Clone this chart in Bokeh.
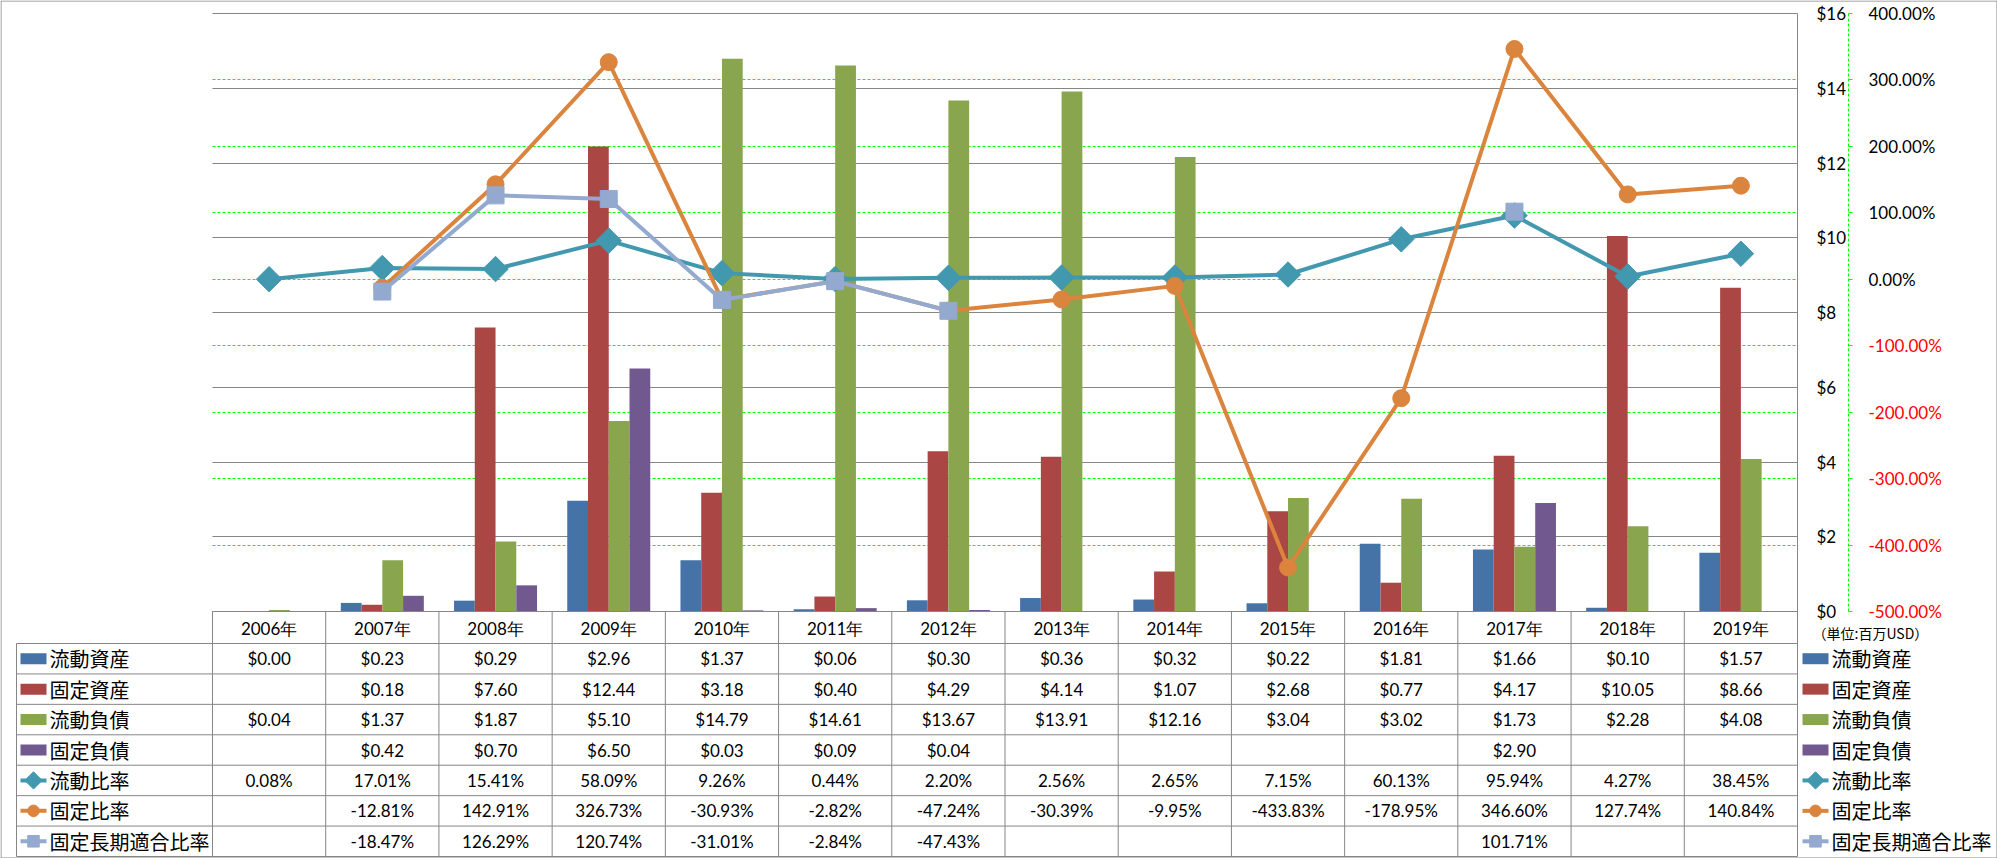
import math
from bokeh.plotting import figure
from bokeh.models import (Range1d, LinearAxis, FixedTicker, PrintfTickFormatter, Grid,
                          ColumnDataSource, LabelSet)
from bokeh.embed import file_html
from bokeh.resources import INLINE
from bokeh.core.properties import value

# ---------------- data ----------------
years = ["2006年", "2007年", "2008年", "2009年", "2010年", "2011年", "2012年",
         "2013年", "2014年", "2015年", "2016年", "2017年", "2018年", "2019年"]
current_assets = [0.00, 0.23, 0.29, 2.96, 1.37, 0.06, 0.30, 0.36, 0.32, 0.22, 1.81, 1.66, 0.10, 1.57]
fixed_assets = [None, 0.18, 7.60, 12.44, 3.18, 0.40, 4.29, 4.14, 1.07, 2.68, 0.77, 4.17, 10.05, 8.66]
current_liabilities = [0.04, 1.37, 1.87, 5.10, 14.79, 14.61, 13.67, 13.91, 12.16, 3.04, 3.02, 1.73, 2.28, 4.08]
fixed_liabilities = [None, 0.42, 0.70, 6.50, 0.03, 0.09, 0.04, None, None, None, None, 2.90, None, None]
current_ratio = [0.08, 17.01, 15.41, 58.09, 9.26, 0.44, 2.20, 2.56, 2.65, 7.15, 60.13, 95.94, 4.27, 38.45]
fixed_ratio = [None, -12.81, 142.91, 326.73, -30.93, -2.82, -47.24, -30.39, -9.95, -433.83,
               -178.95, 346.60, 127.74, 140.84]
fixed_lt_ratio = [None, -18.47, 126.29, 120.74, -31.01, -2.84, -47.43, None, None, None,
                  None, 101.71, None, None]
series_names = ["流動資産", "固定資産", "流動負債", "固定負債", "流動比率", "固定比率", "固定長期適合比率"]
dollar_ticks = [0, 2, 4, 6, 8, 10, 12, 14, 16]
pct_ticks = [-500, -400, -300, -200, -100, 0, 100, 200, 300, 400]
unit_note = "（単位:百万USD）"

# ---------------- style / layout ----------------
BLUE, RED, GREEN, PURPLE = "#4572A7", "#AA4643", "#89A54E", "#71588F"
TEAL, ORANGE, LBLUE = "#4198AF", "#DB843D", "#93A9CF"
GRAY, LIME = "#868686", "#00FF00"
FONT = "Lato"
CJK = "Noto Sans CJK JP"

N = len(years)
W, H = 1997, 858                 # canvas
X0, Y0 = 0, 0                    # canvas position on the page
FL, FR, FT, FB = 212, 1797, 13, 611   # chart plot area (page px)
HB, TB = 643, 856                # header bottom, table bottom
CW = (FR - FL) / N
PXD = (FB - FT) / 16.0           # px per dollar
PXP = (FB - FT) / 900.0          # px per percent


def ux(a):
    return -0.5 + (a - FL) / CW


def uy(a):
    return (FB - a) / PXD


def up(a):
    return -500 + (FB - a) / PXP


def nanify(v):
    return [float("nan") if a is None else a for a in v]


p = figure(width=W, height=H, x_range=Range1d(ux(X0), ux(X0 + W)),
           y_range=Range1d(uy(Y0 + H), uy(Y0)),
           x_axis_location=None, y_axis_location=None, toolbar_location=None,
           output_backend="svg", min_border=0, outline_line_color=None)
p.xgrid.visible = False
p.ygrid.visible = False
p.extra_y_ranges = {"pct": Range1d(up(Y0 + H), up(Y0))}

# gridlines
p.add_layout(Grid(dimension=1, ticker=FixedTicker(ticks=dollar_ticks), bounds=(0, 16),
                  cross_bounds=(-0.5, N - 0.5), grid_line_color=GRAY, grid_line_width=1))
p.add_layout(Grid(dimension=1, y_range_name="pct", ticker=FixedTicker(ticks=pct_ticks[1:-1]),
                  cross_bounds=(-0.5, N - 0.5), grid_line_color=LIME, grid_line_width=1,
                  grid_line_dash="3 2"))

# bars
bar_series = [current_assets, fixed_assets, current_liabilities, fixed_liabilities]
bar_colors = [BLUE, RED, GREEN, PURPLE]
bw = 20.75 / CW
for k, (vals, col) in enumerate(zip(bar_series, bar_colors)):
    xs = [i + (k - 1.5) * bw for i in range(N)]
    p.vbar(x=xs, top=nanify(vals), bottom=0, width=bw, fill_color=col, line_color=None)

# ratio lines
idx = list(range(N))
line_series = [(current_ratio, TEAL, "square", 18, math.pi / 4),
               (fixed_ratio, ORANGE, "circle", 17, 0),
               (fixed_lt_ratio, LBLUE, "square", 17, 0)]
for vals, col, mk, sz, ang in line_series:
    ys = nanify(vals)
    p.line(idx, ys, y_range_name="pct", line_color=col, line_width=4)
    p.scatter(idx, ys, y_range_name="pct", marker=mk, size=sz, angle=ang,
              fill_color=col, line_color=col)

# axes
ax_x = LinearAxis(fixed_location=0, bounds=(-0.5, N - 0.5),
                  ticker=FixedTicker(ticks=list(range(N))),
                  major_label_overrides={i: years[i] for i in range(N)},
                  axis_line_color=GRAY, major_tick_out=0, major_tick_in=0,
                  minor_tick_out=0, minor_tick_in=0, major_label_standoff=6,
                  major_label_text_font=FONT, major_label_text_font_size="17px",
                  major_label_text_color="black")
p.add_layout(ax_x, "below")

ax_d = LinearAxis(fixed_location=N - 0.5, bounds=(0, 16),
                  ticker=FixedTicker(ticks=dollar_ticks), formatter=PrintfTickFormatter(format="$%d"),
                  axis_line_color=GRAY, major_tick_out=0, major_tick_in=0, minor_tick_out=0,
                  minor_tick_in=0, major_label_standoff=19, major_label_text_font=FONT,
                  major_label_text_font_size="17px", major_label_text_color="black")
p.add_layout(ax_d, "right")

ax_p = LinearAxis(y_range_name="pct", fixed_location=ux(1848), bounds=(-500, 400),
                  ticker=FixedTicker(ticks=pct_ticks),
                  formatter=PrintfTickFormatter(format="%.2f%%"),
                  major_label_overrides={t: "" for t in pct_ticks if t < 0},
                  axis_line_color=LIME, axis_line_dash="3 2", major_tick_out=4, major_tick_in=0,
                  major_tick_line_color=LIME, minor_tick_out=0, minor_tick_in=0,
                  major_label_standoff=16, major_label_text_font=FONT,
                  major_label_text_font_size="17px", major_label_text_color="black")
p.add_layout(ax_p, "right")

neg = [t for t in pct_ticks if t < 0]
neg_src = ColumnDataSource(dict(x=[ux(1868)] * len(neg), y=neg, text=["%.2f%%" % t for t in neg]))
p.add_layout(LabelSet(x="x", y="y", text="text", source=neg_src, y_range_name="pct",
                      text_color="#FF0000", text_font=value(FONT), text_font_size=value("17px"),
                      text_align="left", text_baseline="middle"))

p.text([ux(1812)], [uy(632)], text=[unit_note], text_font=value(CJK),
       text_font_size=value("14px"), text_align="left", text_baseline="middle", text_color="black")

# ---------------- data table ----------------
RH = (TB - HB) / 7.0
x0, y0, x1, y1 = [], [], [], []
for r in range(8):
    yy = HB + r * RH
    x0.append(ux(16)); y0.append(uy(yy)); x1.append(N - 0.5); y1.append(uy(yy))
for k in range(N + 1):
    x0.append(k - 0.5); y0.append(0); x1.append(k - 0.5); y1.append(uy(TB))
x0.append(ux(16)); y0.append(uy(HB)); x1.append(ux(16)); y1.append(uy(TB))
# outer frame of the whole picture
bx0, bx1, by0, by1 = ux(X0 + 0.5), ux(X0 + W - 0.5), uy(Y0 + 0.5), uy(Y0 + H - 0.5)
x0 += [bx0, bx1, bx0, bx0]; x1 += [bx0, bx1, bx1, bx1]
y0 += [by0, by0, by0, by1]; y1 += [by1, by1, by0, by1]
p.segment(x0, y0, x1, y1, line_color=GRAY, line_width=1)

row_c = [uy(HB + (r + 0.5) * RH) for r in range(7)]
table_rows = [(current_assets, "$%.2f"), (fixed_assets, "$%.2f"),
              (current_liabilities, "$%.2f"), (fixed_liabilities, "$%.2f"),
              (current_ratio, "%.2f%%"), (fixed_ratio, "%.2f%%"), (fixed_lt_ratio, "%.2f%%")]
cx, cy, ct = [], [], []
for r, (vals, fmt) in enumerate(table_rows):
    for i, v in enumerate(vals):
        if v is not None:
            cx.append(i); cy.append(row_c[r]); ct.append(fmt % v)
p.text(cx, cy, text=ct, text_font=value(FONT), text_font_size=value("17px"),
       text_align="center", text_baseline="middle", text_color="black")

# legend keys (left of the table and right of it)
for kx, tx in [(20, 49), (1802, 1831)]:
    for r in range(4):
        p.rect(x=[ux(kx + 13)], y=[row_c[r]], width=26 / CW, height=11 / PXD,
               fill_color=bar_colors[r], line_color=None)
    for j, (vals, col, mk, sz, ang) in enumerate(line_series):
        r = 4 + j
        p.segment([ux(kx)], [row_c[r]], [ux(kx + 26)], [row_c[r]], line_color=col, line_width=4)
        p.scatter([ux(kx + 13)], [row_c[r]], marker=mk, size=sz * 0.68, angle=ang,
                  fill_color=col, line_color=col)
    p.text([ux(tx)] * 7, row_c, text=series_names, text_font=value(CJK),
           text_font_size=value("20px"), text_align="left", text_baseline="middle",
           text_color="black")

open("out.html", "w").write(file_html(p, INLINE))
